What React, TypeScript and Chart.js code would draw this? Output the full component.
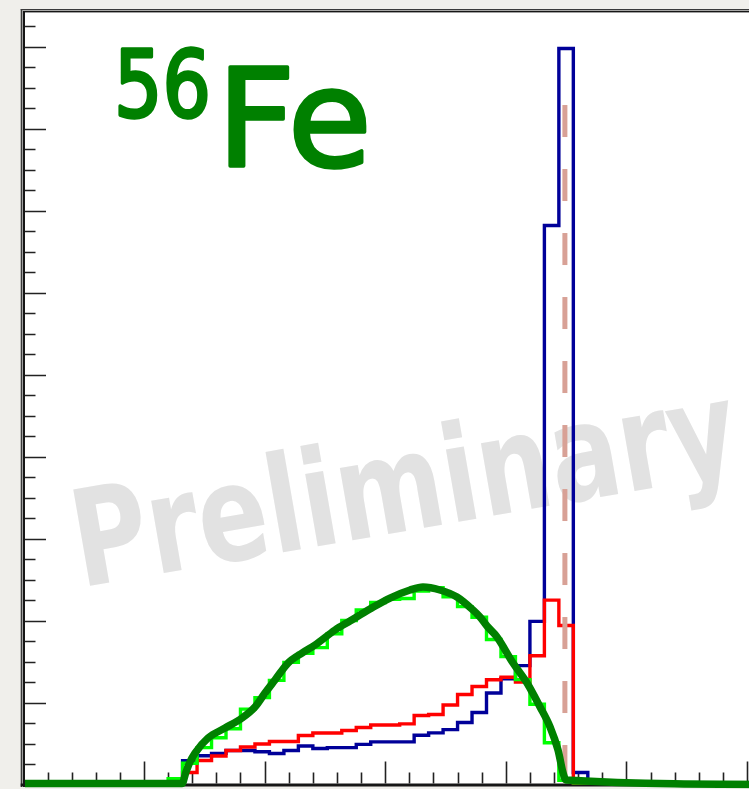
import { useEffect, useRef } from "react";
import { Chart, registerables } from "chart.js";

Chart.register(...registerables);

// Binning shared by the three histograms (axis units)
const BIN_LOW = 1.2;
const BIN_WIDTH = 0.12;

// Histogram contents, one value per bin starting at BIN_LOW
const blueCounts = [
  0, 0.29, 0.35, 0.38, 0.415, 0.415, 0.4, 0.378, 0.415, 0.47, 0.44, 0.45, 0.45, 0.49, 0.52,
  0.52, 0.52, 0.6, 0.63, 0.67, 0.756, 0.878, 1.116, 1.29, 1.45, 1.99, 6.82, 8.98, 0.146, 0,
];
const redCounts = [
  0, 0.146, 0.293, 0.348, 0.415, 0.457, 0.494, 0.524, 0.524, 0.598, 0.628, 0.628, 0.659, 0.695,
  0.726, 0.726, 0.74, 0.841, 0.854, 0.97, 1.098, 1.195, 1.278, 1.309, 1.25, 1.57, 2.25, 1.94, 0, 0,
];
const greenCounts = [
  0.07, 0.26, 0.45, 0.57, 0.68, 0.92, 1.06, 1.27, 1.49, 1.6, 1.67, 1.84, 2.0, 2.13, 2.22, 2.26,
  2.27, 2.36, 2.4, 2.29, 2.17, 2.04, 1.77, 1.56, 1.28, 0.98, 0.51, 0.05, 0, 0,
];

// Smooth model curve
const fitX = [
  0.013, 1.315, 1.348, 1.381, 1.423, 1.531, 1.672, 1.813, 1.92, 2.003, 2.086, 2.194, 2.31, 2.418,
  2.584, 2.708, 2.874, 3.04, 3.206, 3.313, 3.454, 3.595, 3.728, 3.786, 3.844, 3.927, 4.06, 4.176,
  4.284, 4.367, 4.433, 4.475, 4.499, 6.356,
];
const fitY = [
  0.012, 0.012, 0.152, 0.275, 0.384, 0.567, 0.689, 0.811, 0.945, 1.116, 1.275, 1.482, 1.604, 1.702,
  1.885, 1.995, 2.141, 2.275, 2.373, 2.41, 2.373, 2.288, 2.129, 2.044, 1.934, 1.8, 1.482, 1.238,
  0.946, 0.702, 0.421, 0.14, 0.055, 0.0,
];

// Reference energy marker (dashed vertical line)
const markerX = 4.49;
const markerTop = 8.29;

// Axis ranges
const X_MAX = 6.3;
const Y_MAX = 9.425;
const X_MINOR = 0.2;
const X_MAJOR = 1;
const Y_MINOR = 0.25;
const Y_MAJOR = 1;

// Canvas / frame geometry
const CANVAS_W = 800;
const CANVAS_H = 789;
const PLOT_LEFT = 23.4;
const PLOT_TOP = 12;
const PLOT_BOTTOM = 784.5;
const PX_PER_X = 120.6;
const PAPER = "#f0efeb";

type Pt = { x: number; y: number };

function stepPoints(counts: number[]): Pt[] {
  const pts: Pt[] = [{ x: BIN_LOW, y: 0 }];
  counts.forEach((c, i) => pts.push({ x: BIN_LOW + i * BIN_WIDTH, y: c }));
  pts.push({ x: BIN_LOW + counts.length * BIN_WIDTH, y: 0 });
  return pts;
}

function fitText(
  ctx: CanvasRenderingContext2D,
  text: string,
  font: string,
  inkLeft: number,
  inkRight: number,
  baseline: number,
  stroke = 0
) {
  ctx.font = font;
  const m = ctx.measureText(text);
  const w = m.actualBoundingBoxLeft + m.actualBoundingBoxRight;
  const sx = (inkRight - inkLeft - stroke) / w;
  ctx.save();
  ctx.translate(inkLeft + stroke / 2, baseline);
  ctx.scale(sx, 1);
  ctx.textAlign = "left";
  ctx.textBaseline = "alphabetic";
  ctx.fillText(text, m.actualBoundingBoxLeft, 0);
  if (stroke > 0) {
    ctx.lineWidth = stroke;
    ctx.lineJoin = "round";
    ctx.strokeText(text, m.actualBoundingBoxLeft, 0);
  }
  ctx.restore();
}

const decorPlugin = {
  id: "decor",
  beforeDraw(chart: Chart) {
    const { ctx, chartArea: a, width, height } = chart;
    ctx.save();
    ctx.fillStyle = PAPER;
    ctx.fillRect(0, 0, width, height);
    ctx.fillStyle = "#ffffff";
    ctx.fillRect(a.left, a.top, a.right - a.left, a.bottom - a.top);

    // watermark
    ctx.translate(90, 586);
    ctx.rotate((-9.9 * Math.PI) / 180);
    ctx.fillStyle = "#e2e2e2";
    fitText(
      ctx,
      "Preliminary",
      'bold 134px "Liberation Sans Narrow", "DejaVu Sans Condensed", "DejaVu Sans", sans-serif',
      0,
      661,
      0
    );
    ctx.restore();
  },
  beforeDatasetsDraw(chart: Chart) {
    const { ctx, width } = chart;
    const xs = chart.scales.x;
    const ys = chart.scales.y;
    ctx.save();

    // double frame lines
    ctx.fillStyle = "#3a3a3a";
    ctx.fillRect(20.7, 9, 1.3, 778);
    ctx.fillRect(20.7, 9, width, 1.2);
    ctx.fillStyle = "#a0a0a0";
    ctx.fillRect(22, 10.2, 1, 776);
    ctx.fillRect(22, 10.2, width, 0.9);
    ctx.fillStyle = "#161616";
    ctx.fillRect(23, 11, 2, 776);
    ctx.fillRect(23, 11, width, 1.4);
    ctx.fillRect(20.7, 783.5, width, 3);

    // ticks
    ctx.strokeStyle = "#222222";
    ctx.lineWidth = 1.6;
    ctx.beginPath();
    const ny = Math.floor(Y_MAX / Y_MINOR + 1e-6);
    for (let i = 1; i <= ny; i++) {
      const v = i * Y_MINOR;
      const major = Math.abs(v / Y_MAJOR - Math.round(v / Y_MAJOR)) < 1e-6;
      const py = Math.round(ys.getPixelForValue(v)) + 0.5;
      ctx.moveTo(25, py);
      ctx.lineTo(25 + (major ? 21 : 10.5), py);
    }
    const nx = Math.floor(X_MAX / X_MINOR + 1e-6);
    for (let i = 1; i <= nx; i++) {
      const v = i * X_MINOR;
      const major = Math.abs(v / X_MAJOR - Math.round(v / X_MAJOR)) < 1e-6;
      const px = Math.round(xs.getPixelForValue(v)) + 0.5;
      ctx.moveTo(px, 783.5);
      ctx.lineTo(px, 783.5 - (major ? 22 : 11));
    }
    ctx.stroke();
    ctx.restore();
  },
  afterDatasetsDraw(chart: Chart) {
    const { ctx } = chart;
    ctx.save();
    ctx.fillStyle = "#008000";
    ctx.strokeStyle = "#008000";
    const font = (s: number) => `${s}px "DejaVu Sans", "Noto Sans", sans-serif`;
    fitText(ctx, "56", font(92), 118, 208, 116.5, 3.5);
    fitText(ctx, "Fe", font(136), 228, 367, 165.5, 3.5);
    ctx.restore();
  },
};

export default function App() {
  const canvasRef = useRef<HTMLCanvasElement | null>(null);

  useEffect(() => {
    const canvas = canvasRef.current;
    if (!canvas) return;
    const fitPoints = fitX.map((x, i) => ({ x, y: fitY[i] }));
    const chart = new Chart(canvas, {
      type: "line",
      data: {
        datasets: [
          {
            label: "model",
            data: fitPoints,
            borderColor: "#008000",
            borderWidth: 7.5,
            cubicInterpolationMode: "monotone",
            clip: false,
            order: 0,
          },
          {
            label: "marker",
            data: [
              { x: markerX, y: markerTop },
              { x: markerX, y: 0 },
            ],
            borderColor: "#d8a196",
            borderWidth: 5,
            borderDash: [32, 32],
            order: 1,
          },
          {
            label: "green",
            data: stepPoints(greenCounts),
            borderColor: "#00ff00",
            borderWidth: 3.4,
            stepped: "before",
            order: 2,
          },
          {
            label: "red",
            data: stepPoints(redCounts),
            borderColor: "#ff0000",
            borderWidth: 3.4,
            stepped: "before",
            order: 3,
          },
          {
            label: "blue",
            data: stepPoints(blueCounts),
            borderColor: "#000099",
            borderWidth: 3.4,
            stepped: "before",
            order: 4,
          },
        ] as any,
      },
      options: {
        animation: false,
        responsive: false,
        events: [],
        layout: {
          padding: {
            left: PLOT_LEFT,
            top: PLOT_TOP,
            right: CANVAS_W - (PLOT_LEFT + X_MAX * PX_PER_X),
            bottom: CANVAS_H - PLOT_BOTTOM,
          },
        },
        elements: { point: { radius: 0 }, line: { borderJoinStyle: "miter" } },
        scales: {
          x: { type: "linear", min: 0, max: X_MAX, display: false },
          y: { type: "linear", min: 0, max: Y_MAX, display: false },
        },
        plugins: { legend: { display: false }, tooltip: { enabled: false } },
      },
      plugins: [decorPlugin as any],
    });
    return () => chart.destroy();
  }, []);

  return (
    <div
      style={{
        position: "fixed",
        left: 0,
        top: 0,
        width: 749,
        height: CANVAS_H,
        overflow: "hidden",
        background: PAPER,
      }}
    >
      <canvas
        ref={canvasRef}
        width={CANVAS_W}
        height={CANVAS_H}
        style={{ display: "block", width: CANVAS_W, height: CANVAS_H }}
      />
    </div>
  );
}
